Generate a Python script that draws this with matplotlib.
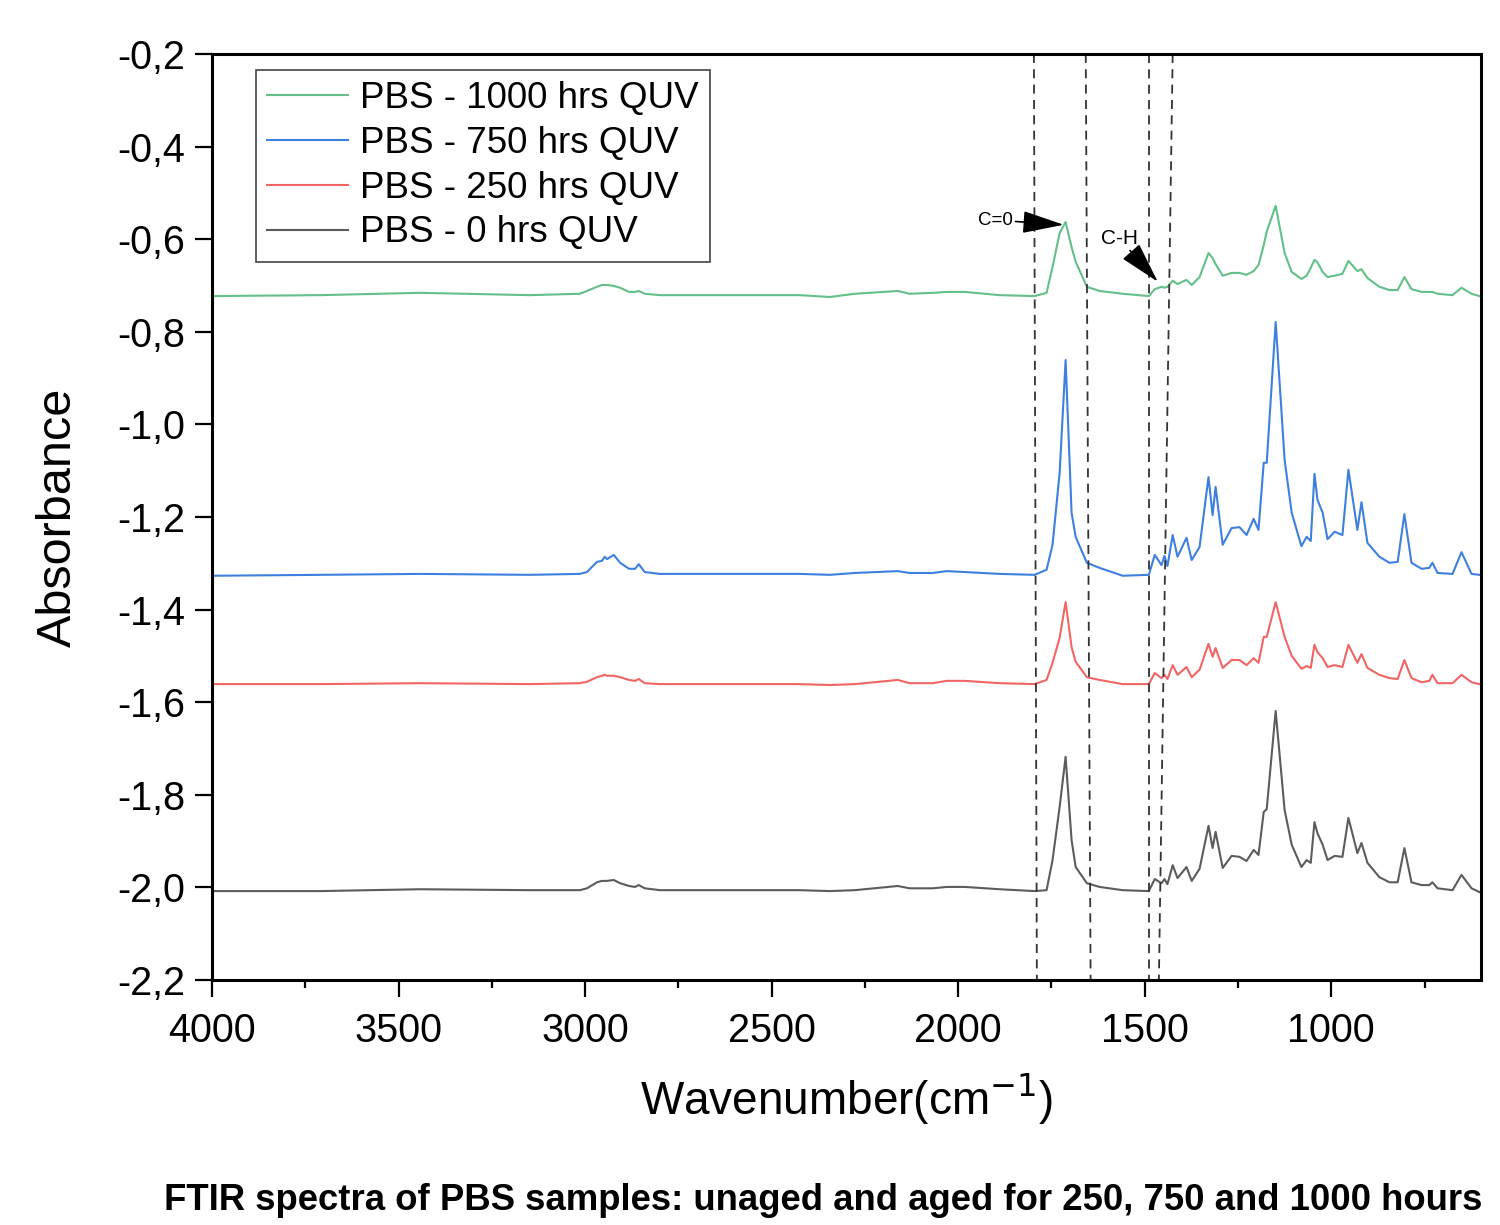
import matplotlib
matplotlib.use("Agg")
import matplotlib.pyplot as plt
from matplotlib.ticker import MultipleLocator, FuncFormatter

plt.rcParams['font.family'] = ['Liberation Sans', 'DejaVu Sans']

# wavenumber grid (cm-1) shared by all spectra
wavenumber = [4000, 3710, 3442, 3148, 3014, 2995, 2968, 2955, 2947, 2941,
              2923, 2906, 2882, 2866, 2856, 2840, 2799, 2424, 2344, 2277,
              2162, 2130, 2068, 2031, 1982, 1889, 1795, 1763, 1747, 1728,
              1712, 1696, 1685, 1655, 1621, 1559, 1489, 1473, 1455, 1447,
              1439, 1425, 1412, 1388, 1374, 1353, 1329, 1318, 1310, 1291,
              1267, 1246, 1227, 1208, 1195, 1181, 1173, 1149, 1125, 1106,
              1080, 1066, 1055, 1045, 1037, 1023, 1010, 991, 970, 954,
              930, 919, 903, 871, 844, 822, 804, 785, 758, 737,
              729, 715, 675, 651, 624, 603]

abs_1000h = [-0.723, -0.721, -0.716, -0.721, -0.718, -0.712, -0.703, -0.699, -0.699, -0.699,
             -0.701, -0.705, -0.714, -0.714, -0.712, -0.718, -0.721, -0.721, -0.725, -0.718,
             -0.712, -0.718, -0.716, -0.714, -0.714, -0.721, -0.723, -0.716, -0.660, -0.587,
             -0.563, -0.617, -0.649, -0.703, -0.712, -0.718, -0.723, -0.708, -0.703, -0.705,
             -0.703, -0.690, -0.697, -0.688, -0.699, -0.682, -0.630, -0.641, -0.654, -0.679,
             -0.673, -0.673, -0.677, -0.669, -0.656, -0.613, -0.584, -0.528, -0.630, -0.671,
             -0.686, -0.679, -0.662, -0.645, -0.650, -0.671, -0.682, -0.679, -0.675, -0.647,
             -0.669, -0.665, -0.684, -0.703, -0.710, -0.710, -0.682, -0.708, -0.714, -0.714,
             -0.714, -0.718, -0.721, -0.705, -0.718, -0.723]

abs_750h = [-1.327, -1.325, -1.323, -1.325, -1.323, -1.319, -1.297, -1.295, -1.286, -1.291,
            -1.282, -1.299, -1.312, -1.312, -1.302, -1.319, -1.323, -1.323, -1.325, -1.321,
            -1.317, -1.321, -1.321, -1.317, -1.319, -1.323, -1.325, -1.314, -1.260, -1.105,
            -0.861, -1.191, -1.243, -1.299, -1.310, -1.327, -1.325, -1.282, -1.304, -1.284,
            -1.306, -1.239, -1.286, -1.245, -1.293, -1.265, -1.114, -1.196, -1.135, -1.260,
            -1.224, -1.222, -1.239, -1.204, -1.228, -1.083, -1.083, -0.779, -1.077, -1.191,
            -1.263, -1.243, -1.252, -1.107, -1.163, -1.191, -1.248, -1.232, -1.239, -1.098,
            -1.228, -1.168, -1.256, -1.286, -1.299, -1.297, -1.194, -1.299, -1.312, -1.310,
            -1.299, -1.321, -1.323, -1.276, -1.323, -1.325]

abs_250h = [-1.561, -1.561, -1.559, -1.561, -1.559, -1.556, -1.546, -1.543, -1.541, -1.543,
            -1.543, -1.546, -1.552, -1.554, -1.550, -1.559, -1.561, -1.561, -1.563, -1.561,
            -1.552, -1.559, -1.559, -1.554, -1.554, -1.559, -1.561, -1.552, -1.515, -1.461,
            -1.384, -1.481, -1.513, -1.546, -1.552, -1.561, -1.561, -1.537, -1.548, -1.541,
            -1.550, -1.520, -1.541, -1.524, -1.546, -1.530, -1.474, -1.502, -1.483, -1.526,
            -1.509, -1.509, -1.520, -1.505, -1.515, -1.459, -1.459, -1.384, -1.459, -1.500,
            -1.528, -1.522, -1.526, -1.476, -1.492, -1.505, -1.524, -1.520, -1.524, -1.476,
            -1.515, -1.496, -1.526, -1.541, -1.548, -1.550, -1.509, -1.548, -1.557, -1.554,
            -1.541, -1.559, -1.559, -1.541, -1.557, -1.561]

abs_0h = [-2.008, -2.008, -2.004, -2.006, -2.006, -2.002, -1.989, -1.986, -1.986, -1.986,
          -1.984, -1.991, -1.997, -1.999, -1.995, -2.002, -2.006, -2.006, -2.008, -2.006,
          -1.997, -2.002, -2.002, -1.999, -1.999, -2.004, -2.008, -2.006, -1.941, -1.826,
          -1.718, -1.898, -1.956, -1.991, -1.999, -2.006, -2.008, -1.982, -1.991, -1.982,
          -1.993, -1.952, -1.980, -1.956, -1.986, -1.960, -1.867, -1.915, -1.880, -1.958,
          -1.932, -1.934, -1.943, -1.919, -1.930, -1.837, -1.831, -1.619, -1.833, -1.908,
          -1.956, -1.941, -1.947, -1.859, -1.883, -1.908, -1.941, -1.932, -1.934, -1.850,
          -1.926, -1.904, -1.947, -1.978, -1.989, -1.989, -1.915, -1.989, -1.995, -1.995,
          -1.989, -2.002, -2.006, -1.973, -2.002, -2.010]

labels = ["PBS - 0 hrs QUV", "PBS - 250 hrs QUV", "PBS - 750 hrs QUV", "PBS - 1000 hrs QUV"]
colors = ["#5c5c5c", "#f26565", "#3e80e0", "#62c088"]

# guide lines (top wavenumber, bottom wavenumber) - hand drawn, slightly slanted
guide_top = [1797, 1658, 1489, 1425]
guide_bottom = [1789, 1645, 1489, 1462]

fig = plt.figure(figsize=(15, 12.25), dpi=100)
ax = fig.add_axes([0.1413, 0.2, 0.8457, 0.756])

series = [abs_0h, abs_250h, abs_750h, abs_1000h]
handles = []
for vals, lab, col in zip(series, labels, colors):
    h, = ax.plot(wavenumber, vals, color=col, lw=1.5, label=lab)
    handles.append(h)

for top, bot in zip(guide_top, guide_bottom):
    ax.plot([top, bot], [-0.2, -2.2], color="#333333", lw=1.3, ls=(0, (5, 3.5)))

ax.set_xlim(4000, 600)
ax.set_ylim(-2.2, -0.2)
ax.xaxis.set_major_locator(MultipleLocator(500))
ax.xaxis.set_minor_locator(MultipleLocator(250))
ax.yaxis.set_major_locator(MultipleLocator(0.2))
ax.yaxis.set_major_formatter(FuncFormatter(lambda v, p: f"{v:.1f}".replace(".", ",")))

ax.tick_params(axis="both", which="major", direction="out", length=12, width=1.6, labelsize=28.5)
ax.tick_params(axis="x", which="minor", direction="out", length=6, width=1.6)
ax.tick_params(axis="x", which="major", pad=11)
ax.tick_params(axis="y", which="major", pad=7)
for s in ax.spines.values():
    s.set_linewidth(2.2)

ax.set_xlabel("Wavenumber(cm$^{-1}$)", fontsize=33, labelpad=16)
ax.set_ylabel("Absorbance", fontsize=35, labelpad=26)

leg = ax.legend(handles[::-1], labels[::-1], loc="upper left", bbox_to_anchor=(0.035, 0.983),
                fontsize=26.5, handlelength=2.2, handletextpad=0.32, labelspacing=0.27,
                borderpad=0.3, borderaxespad=0, fancybox=False, framealpha=1)
leg.get_frame().set_edgecolor("#444444")
leg.get_frame().set_linewidth(1.2)

# peak annotations
ax.annotate("C=0", xy=(1717, -0.569), xytext=(1854, -0.559), fontsize=13.5,
            ha="right", va="center",
            arrowprops=dict(arrowstyle="-|>,head_length=1.3,head_width=0.35",
                            color="black", lw=1.2, mutation_scale=20, shrinkA=0, shrinkB=0))
ax.annotate("C-H", xy=(1465, -0.692), xytext=(1519, -0.598), fontsize=15,
            ha="right", va="center",
            arrowprops=dict(arrowstyle="-|>,head_length=1.3,head_width=0.35",
                            color="black", lw=1.2, mutation_scale=20, shrinkA=0, shrinkB=0))

fig.text(0.109, 0.0204, "FTIR spectra of PBS samples: unaged and aged for 250, 750 and 1000 hours",
         fontsize=26.3, fontweight="bold", ha="left", va="center")

fig.savefig("out.png", dpi=100, facecolor="white")
